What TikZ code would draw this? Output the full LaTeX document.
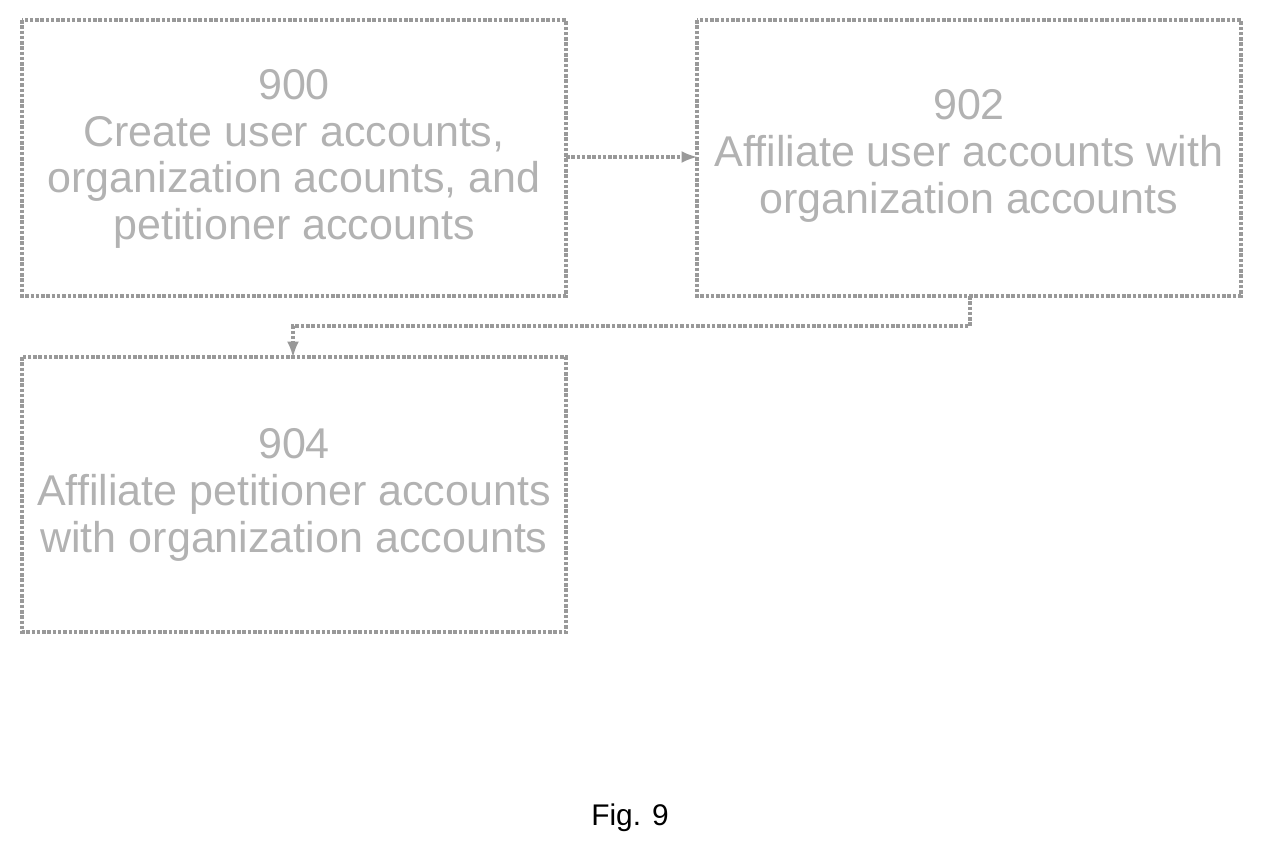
\documentclass[tikz,border=0pt]{standalone}
\usepackage{fontspec}
\setmainfont{Liberation Sans}
\begin{document}
\begin{tikzpicture}[x=0.02cm,y=-0.02cm,
  box/.style={draw=gray!80,densely dotted,line width=2pt,inner sep=0pt},
  txt/.style={text=gray!60,font=\fontsize{24.5}{26.5}\selectfont,align=center},
  conn/.style={draw=gray!80,densely dotted,line width=2pt,-latex}]
\useasboundingbox (0,0) rectangle (1262,857);
\draw[box] (22,20) rectangle (566,296);
\draw[box] (697,20) rectangle (1241,296);
\draw[box] (22,357) rectangle (566,632);
\node[txt] (a) at (294,159) {900\\Create user accounts,\\organization acounts, and\\petitioner accounts};
\node[txt] (b) at (969,156) {902\\Affiliate user accounts with\\organization accounts};
\node[txt] (c) at (294,495) {904\\Affiliate petitioner accounts\\with organization accounts};
\coordinate (a1) at (566,157); \coordinate (b1) at (697,157);
\coordinate (b2) at (970,296); \coordinate (c2) at (293,357);
\draw[conn] (a1) -- (b1);
\draw[conn] (b2) -- (970,326) -- (293,326) -- (c2);
\node[font=\fontsize{17}{20}\selectfont] (cap) at (630,818) {Fig. 9};
\end{tikzpicture}
\end{document}
